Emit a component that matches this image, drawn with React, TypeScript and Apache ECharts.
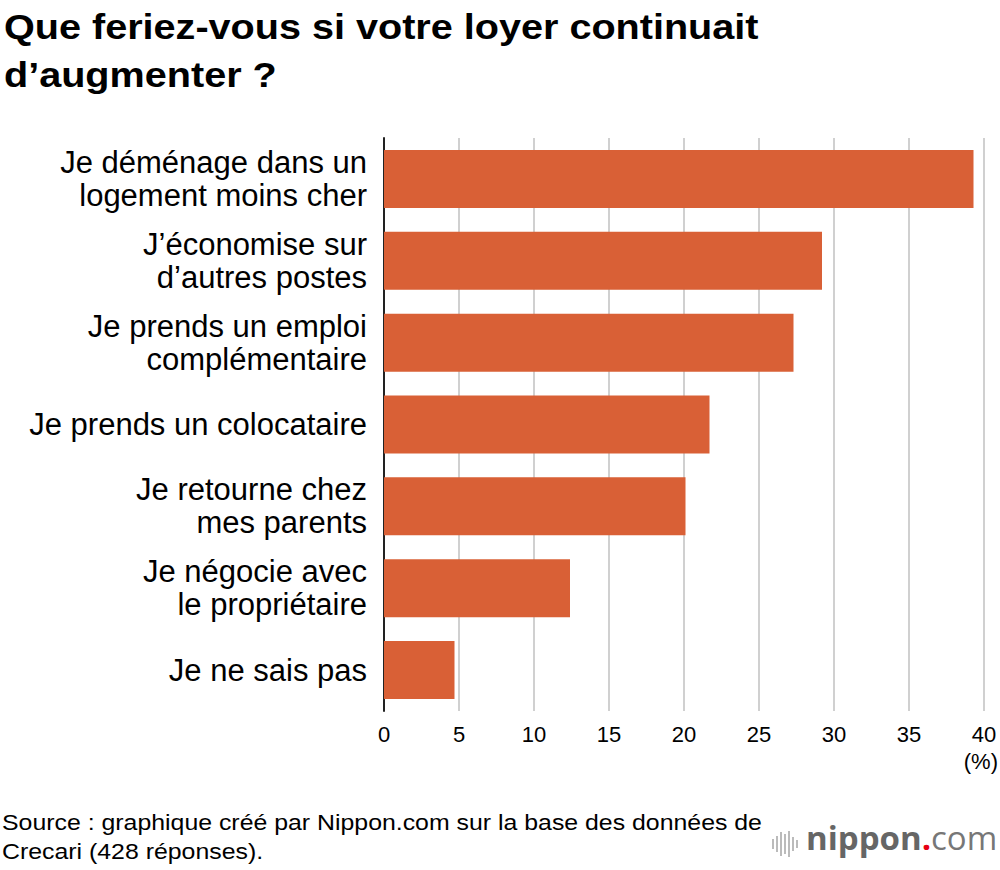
import React, { useEffect, useRef } from "react";
import * as echarts from "echarts";

const categories = [
  "Je déménage dans un\nlogement moins cher",
  "J’économise sur\nd’autres postes",
  "Je prends un emploi\ncomplémentaire",
  "Je prends un colocataire",
  "Je retourne chez\nmes parents",
  "Je négocie avec\nle propriétaire",
  "Je ne sais pas",
];
const values = [39.3, 29.2, 27.3, 21.7, 20.1, 12.4, 4.7];
const titleText = "Que feriez-vous si votre loyer continuait\nd’augmenter ?";
const sourceText =
  "Source : graphique créé par Nippon.com sur la base des données de\nCrecari (428 réponses).";
const unitText = "(%)";

const FONT = '"Liberation Sans", Arial, Helvetica, sans-serif';

export default function App() {
  const ref = useRef<HTMLDivElement>(null);
  useEffect(() => {
    if (!ref.current) return;
    const chart = echarts.init(ref.current, undefined, { renderer: "svg" });
    const logoBars = [
      [0, 10], [4, 16], [8, 24], [12, 20], [16, 26], [20, 14], [24, 8],
    ];
    chart.setOption({
      animation: false,
      backgroundColor: "#fff",
      textStyle: { fontFamily: FONT },
      grid: { left: 384, right: 16, top: 138, bottom: 159 },
      xAxis: {
        type: "value",
        min: 0,
        max: 40,
        interval: 5,
        axisLine: { show: false },
        axisTick: { show: false },
        splitLine: { lineStyle: { color: "#d0d0d0", width: 2 } },
        axisLabel: { color: "#000", fontSize: 22, margin: 12, fontFamily: FONT },
      },
      yAxis: {
        type: "category",
        inverse: true,
        data: categories,
        axisLine: { show: true, lineStyle: { color: "#222", width: 2 } },
        axisTick: { show: false },
        axisLabel: {
          color: "#000",
          fontSize: 31,
          lineHeight: 33,
          margin: 17,
          align: "right",
          fontFamily: FONT,
        },
      },
      series: [
        {
          type: "bar",
          data: values,
          barWidth: 58,
          itemStyle: { color: "#d96036" },
          silent: true,
          z: 3,
        },
      ],
      graphic: [
        {
          type: "text",
          x: 4,
          y: 3,
          scaleX: 1.1,
          style: {
            text: titleText,
            font: `bold 36px ${FONT}`,
            lineHeight: 48,
            fill: "#000",
          },
        },
        {
          type: "text",
          right: 2,
          top: 750,
          style: { text: unitText, font: `22px ${FONT}`, fill: "#000" },
        },
        {
          type: "text",
          x: 2,
          y: 808,
          scaleX: 1.13,
          style: {
            text: sourceText,
            font: `22px ${FONT}`,
            lineHeight: 29,
            fill: "#000",
          },
        },
        {
          type: "group",
          left: 772,
          top: 831,
          children: logoBars.map(([x, h]) => ({
            type: "rect",
            shape: { x, y: (26 - h) / 2, width: 2, height: h },
            style: { fill: "#bbb" },
          })),
        },
        {
          type: "text",
          left: 806,
          top: 821,
          style: {
            text: "{a|nippon}{b|.}{c|com}",
            rich: {
              a: { font: `bold 33px "Open Sans", ${FONT}`, fill: "#666" },
              b: { font: `bold 33px "Open Sans", ${FONT}`, fill: "#e60012" },
              c: { font: `33px "Open Sans", ${FONT}`, fill: "#777" },
            },
          },
        },
      ],
    });
    return () => chart.dispose();
  }, []);
  return (
    <div
      ref={ref}
      style={{ position: "absolute", left: 0, top: 0, width: 1000, height: 870 }}
    />
  );
}
